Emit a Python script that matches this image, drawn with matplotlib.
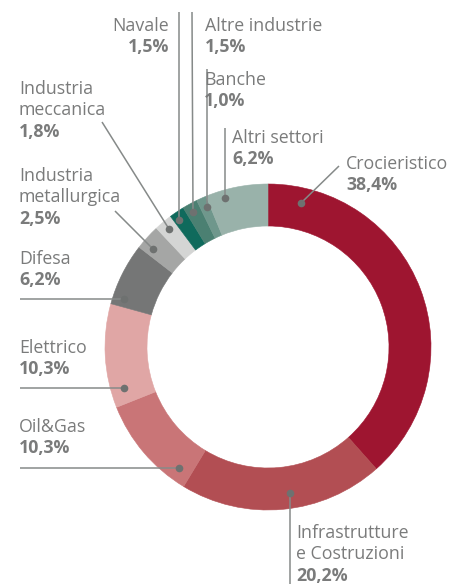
import matplotlib
matplotlib.use("Agg")
import matplotlib.pyplot as plt

categories = ["Crocieristico", "Infrastrutture\ne Costruzioni", "Oil&Gas", "Elettrico", "Difesa",
              "Industria\nmetallurgica", "Industria\nmeccanica", "Navale", "Altre industrie",
              "Banche", "Altri settori"]
values = [38.4, 20.2, 10.3, 10.3, 6.2, 2.5, 1.8, 1.5, 1.5, 1.0, 6.2]
pct_labels = ["38,4%", "20,2%", "10,3%", "10,3%", "6,2%", "2,5%", "1,8%", "1,5%", "1,5%", "1,0%", "6,2%"]
colors = ["#9e1530", "#b24e53", "#c97577", "#e0a6a5", "#757676", "#a5a6a5", "#d4d5d4",
          "#0f6a5c", "#4b8072", "#6f978c", "#99b2aa"]

W, H = 454, 584
fig = plt.figure(figsize=(W / 100, H / 100), dpi=100)
ax = fig.add_axes([0, 0, 1, 1])

def Y(y):
    return H - y

CX, CY, R, RW = 268, 347, 163, 42
ax.pie(values, colors=colors, startangle=90, counterclock=False,
       center=(CX, Y(CY)), radius=R,
       wedgeprops=dict(width=RW, linewidth=0.4, edgecolor=None), frame=False)
for w, c in zip(ax.patches, colors):
    w.set_edgecolor(c)
ax.set_xlim(0, W)
ax.set_ylim(0, H)
ax.set_aspect("equal")
ax.axis("off")

FONT = "Open Sans"
FS = 12.8
TXT = "#7a7b7b"
LINE = "#868a89"
DOT = "#6e7170"

# label layout: (x, first baseline y, ha), leader polyline (pixel), dot position (pixel)
layout = {
    0: dict(x=346, y=169, ha="left", line=[(339, 166), (301, 203)]),
    1: dict(x=296, y=538, ha="left", line=[(290, 584), (290, 493)]),
    2: dict(x=19, y=432, ha="left", line=[(20, 468), (179, 468)]),
    3: dict(x=19, y=353, ha="left", line=[(20, 388), (124, 388)]),
    4: dict(x=19, y=264, ha="left", line=[(20, 299), (124, 299)]),
    5: dict(x=19, y=181, ha="left", line=[(115, 211), (153, 249)]),
    6: dict(x=19, y=94, ha="left", line=[(102, 122), (169, 229)]),
    7: dict(x=169, y=31, ha="right", line=[(179, 12), (179, 220)]),
    8: dict(x=205, y=31, ha="left", line=[(192, 12), (193, 212)]),
    9: dict(x=204, y=85, ha="left", line=[(207, 69), (207, 207)]),
    10: dict(x=232, y=143, ha="left", line=[(225, 128), (225, 198)]),
}
LS = 21.3
for i, (cat, pl) in enumerate(zip(categories, pct_labels)):
    L = layout[i]
    lines = cat.split("\n")
    for k, t in enumerate(lines):
        ax.text(L["x"], Y(L["y"] + k * LS), t, ha=L["ha"], va="baseline",
                fontsize=FS, family=FONT, color=TXT)
    ax.text(L["x"], Y(L["y"] + len(lines) * LS), pl, ha=L["ha"], va="baseline",
            fontsize=FS, family=FONT, color=TXT, fontweight="bold")
    xs = [p[0] for p in L["line"]]
    ys = [Y(p[1]) for p in L["line"]]
    ax.plot(xs, ys, color=LINE, lw=1.1, solid_capstyle="butt")
    ax.plot([xs[-1]], [ys[-1]], "o", color=DOT, ms=5.5, mec="none")

fig.savefig("out.png", dpi=100)
